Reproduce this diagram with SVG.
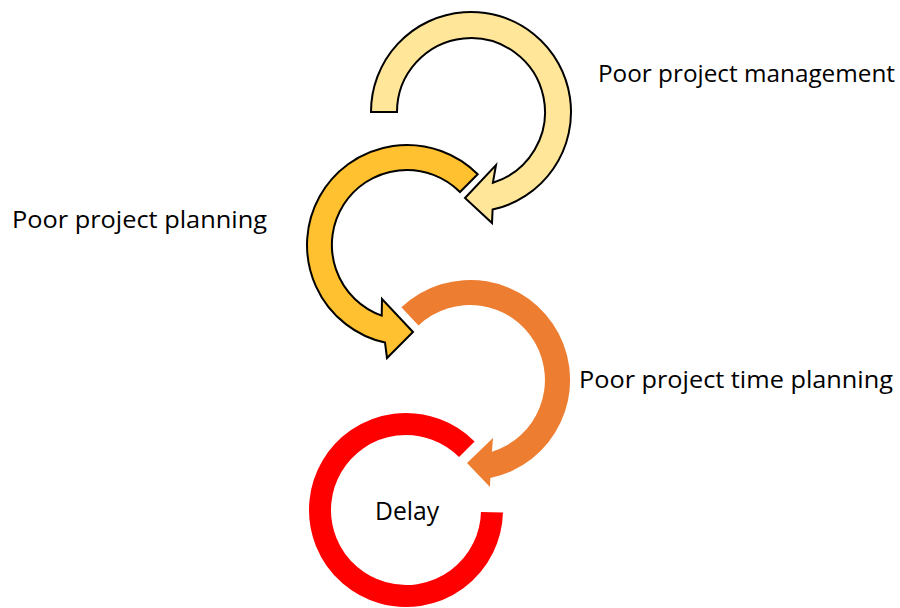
<svg xmlns="http://www.w3.org/2000/svg" width="900" height="608" viewBox="0 0 900 608">
  <style>
    .lbl { font-family: "Open Sans", "Liberation Sans", sans-serif; font-size: 24px; fill: #000; }
    .outlined { stroke: #000; stroke-width: 2; stroke-linejoin: miter; }
  </style>
  <rect width="900" height="608" fill="#fff"/>
  <g id="connectors">
    <path id="arc-management" class="outlined" fill="#FFE699"
      d="M371,112 A100,100 0 1 1 492.6,209.6 L492,223 L465,198 L496,165 L492.9,182.7 A74,74 0 1 0 397,112 Z"/>
    <path id="arc-planning" class="outlined" fill="#FFC12F"
      d="M477.7,174.3 A100,100 0 1 0 385,342.6 L387,358 L413,332 L382,299 L381.7,315.6 A75,75 0 1 1 460,192 Z"/>
    <path id="arc-time" fill="#ED7D31"
      d="M401.4,307.3 A100,100 0 1 1 490.3,477.9 L490,487 L467,463 L493,438 L491.9,451.7 A75,75 0 1 0 418.5,325.4 Z"/>
  </g>
  <g id="node-management">
    <text class="lbl" x="598" y="82" textLength="297" lengthAdjust="spacingAndGlyphs">Poor project management</text>
  </g>
  <g id="node-planning">
    <text class="lbl" x="12" y="228" textLength="255" lengthAdjust="spacingAndGlyphs">Poor project planning</text>
  </g>
  <g id="node-time">
    <text class="lbl" x="579" y="388" textLength="314" lengthAdjust="spacingAndGlyphs">Poor project time planning</text>
  </g>
  <g id="node-delay">
    <path d="M491.97,512.25 A86,86 0 1 1 466.81,449.19" fill="none" stroke="#FF0000" stroke-width="22"/>
    <text class="lbl" x="375" y="520" style="font-size:25px" textLength="64" lengthAdjust="spacingAndGlyphs">Delay</text>
  </g>
</svg>
